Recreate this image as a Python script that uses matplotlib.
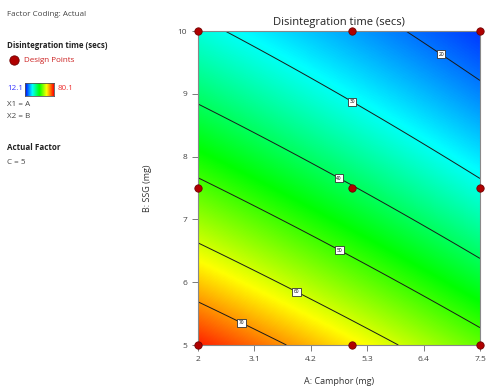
import numpy as np
import matplotlib
matplotlib.use("Agg")
import matplotlib.pyplot as plt
from matplotlib.colors import LinearSegmentedColormap

plt.rcParams['font.family'] = ['Open Sans', 'DejaVu Sans']

# model coefficients in coded units (x1 = A, x2 = B), C held at 5
b0, b1, b2, b12, b11, b22 = 41.3, -10.2, -20.8, 2.4, 0.0, 3.2
a_range = (2.0, 7.5)
b_range = (5.0, 10.0)
resp_min, resp_max = 12.1, 80.1
levels = [20, 30, 40, 50, 60, 70]

design_a = [2, 5, 7.5, 2, 5, 7.5, 2, 5, 7.5]
design_b = [5, 5, 5, 7.5, 7.5, 7.5, 10, 10, 10]

x_ticks = [2, 3.1, 4.2, 5.3, 6.4, 7.5]
y_ticks = [5, 6, 7, 8, 9, 10]

label_pos = [(6.80, 9.70), (5.08, 8.98), (4.83, 7.77), (4.81, 6.59), (3.97, 5.92), (2.88, 5.41)]

cmap = LinearSegmentedColormap.from_list(
    'dx', ['#0000ff', '#00ffff', '#00ff00', '#ffff00', '#ff0000'])

A = np.linspace(*a_range, 300)
B = np.linspace(*b_range, 300)
AA, BB = np.meshgrid(A, B)
x1 = (AA - 4.75) / 2.75
x2 = (BB - 7.5) / 2.5
Z = b0 + b1 * x1 + b2 * x2 + b12 * x1 * x2 + b11 * x1 ** 2 + b22 * x2 ** 2

fig = plt.figure(figsize=(4.87, 3.9), dpi=100)
ax = fig.add_axes([198 / 487, 45 / 390, 282 / 487, 314 / 390])

ax.imshow(Z, origin='lower', extent=[*a_range, *b_range], aspect='auto',
          cmap=cmap, vmin=resp_min, vmax=resp_max, interpolation='bilinear')
cs = ax.contour(AA, BB, Z, levels=levels, colors='#1a1a1a', linewidths=0.7)
lbls = ax.clabel(cs, fmt='%d', inline=False, fontsize=3.5, manual=label_pos)
for t in lbls:
    t.set_rotation(0)
    t.set_color('black')
    t.set_bbox(dict(boxstyle='square,pad=0.3', fc='white', ec='#333333', lw=0.6))

ax.scatter(design_a, design_b, s=28, c='#b00000', edgecolors='#700000',
           linewidths=0.6, zorder=5, clip_on=False)

ax.set_xlim(*a_range)
ax.set_ylim(*b_range)
ax.set_xticks(x_ticks)
ax.set_xticklabels([f'{v:g}' for v in x_ticks])
ax.set_yticks(y_ticks)
ax.tick_params(direction='out', length=4, width=0.6, colors='#666666',
               labelsize=6, labelcolor='#444444', pad=4)
for s in ax.spines.values():
    s.set_color('#888888')
    s.set_linewidth(0.8)

ax.set_title('Disintegration time (secs)', fontsize=8, color='#222222', pad=4)
ax.set_xlabel('A: Camphor (mg)', fontsize=6.5, color='#333333', labelpad=10)
ax.set_ylabel('B: SSG (mg)', fontsize=6.5, color='#333333', labelpad=18)

# left legend panel
def ftext(x, y, s, **kw):
    fig.text(x / 487, 1 - y / 390, s, va='center', ha='left', **kw)

ftext(7, 15, 'Factor Coding: Actual', fontsize=5.8, color='#444444')
ftext(7, 45, 'Disintegration time (secs)', fontsize=5.7, fontweight='bold', color='#222222')
dot_ax = fig.add_axes([0, 0, 1, 1], facecolor='none')
dot_ax.set_xlim(0, 487)
dot_ax.set_ylim(390, 0)
dot_ax.axis('off')
dot_ax.scatter([14], [60], s=45, c='#b00000', edgecolors='#700000', linewidths=0.6)
ftext(24, 60, 'Design Points', fontsize=5.8, color='#cc2222')
ftext(7, 89, '12.1', fontsize=5.8, color='#3333ff')
ftext(58, 89, '80.1', fontsize=5.8, color='#ee3333')
cb_ax = fig.add_axes([25 / 487, 1 - 96 / 390, 29 / 487, 13 / 390])
cb_ax.imshow(np.linspace(0, 1, 100)[None, :], aspect='auto', cmap=cmap)
cb_ax.set_xticks([])
cb_ax.set_yticks([])
for s in cb_ax.spines.values():
    s.set_color('#555555')
    s.set_linewidth(0.6)
ftext(7, 104, 'X1 = A', fontsize=5.8, color='#444444')
ftext(7, 117, 'X2 = B', fontsize=5.8, color='#444444')
ftext(7, 147, 'Actual Factor', fontsize=5.8, fontweight='bold', color='#222222')
ftext(7, 162, 'C = 5', fontsize=5.8, color='#444444')

fig.savefig('out.png', dpi=100)
